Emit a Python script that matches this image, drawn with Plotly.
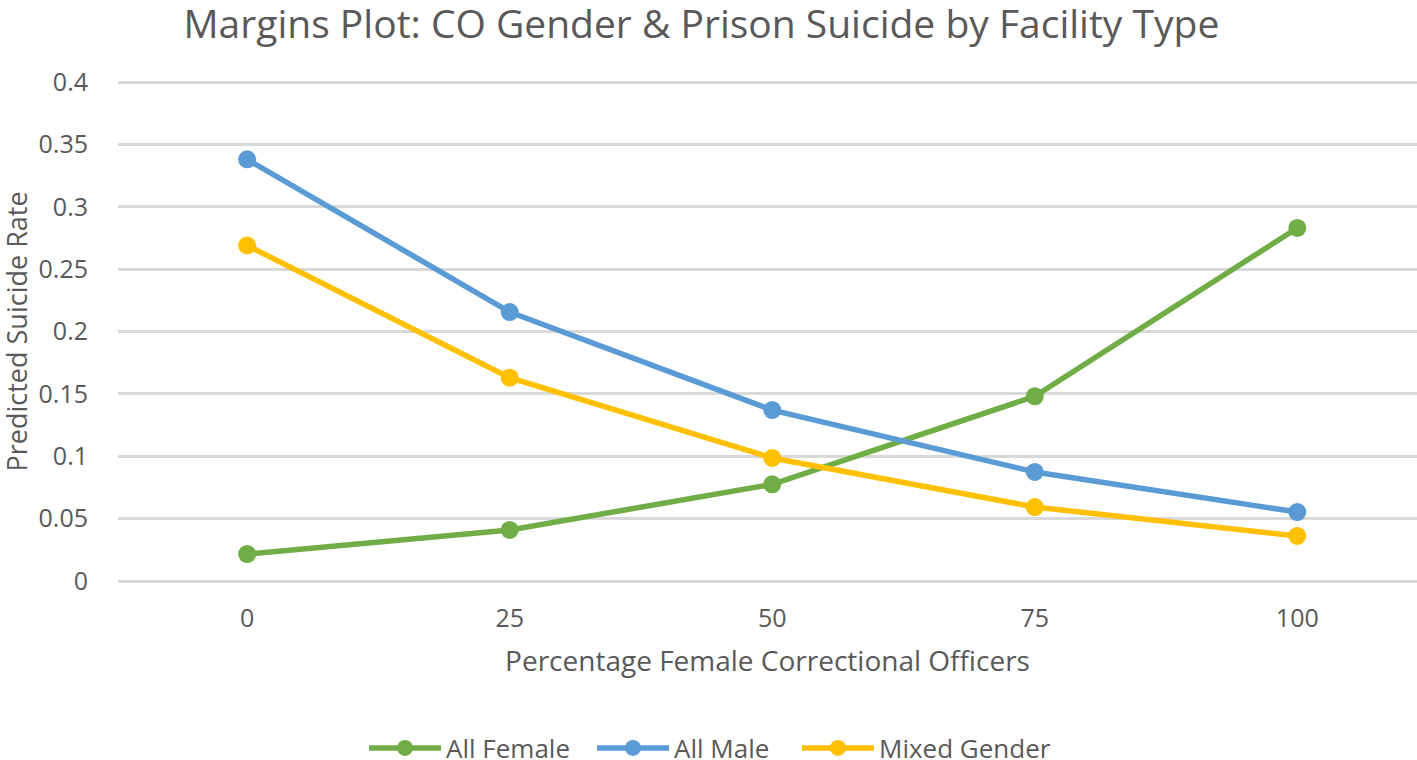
import plotly.graph_objects as go

x_vals = [0, 25, 50, 75, 100]
all_female = [0.0216, 0.0409, 0.0775, 0.148, 0.283]
all_male = [0.338, 0.2156, 0.137, 0.0874, 0.0553]
mixed_gender = [0.269, 0.163, 0.0986, 0.0593, 0.0361]
series_names = ["All Female", "All Male", "Mixed Gender"]
colors = ["#70AD47", "#5B9BD5", "#FFC000"]
y_ticks = [0, 0.05, 0.1, 0.15, 0.2, 0.25, 0.3, 0.35, 0.4]
y_ticktext = ["0", "0.05", "0.1", "0.15", "0.2", "0.25", "0.3", "0.35", "0.4"]

FONT = "Open Sans"
TXT = "#595959"

legend_ids = ["legend", "legend2", "legend3"]
legend_x = [364, 592, 797]  # left edge of each legend entry (px)

fig = go.Figure()
for name, ys, c, lg in zip(series_names, [all_female, all_male, mixed_gender], colors, legend_ids):
    fig.add_trace(go.Scatter(
        x=x_vals, y=ys, name=name, mode="lines+markers",
        line=dict(color=c, width=5.5),
        marker=dict(color=c, size=18),
        legend=lg,
    ))

leg_common = dict(orientation="h", xref="container", yref="paper",
                  xanchor="left", y=-0.328, yanchor="middle",
                  font=dict(size=26, color=TXT, family=FONT),
                  itemwidth=72, bgcolor="rgba(0,0,0,0)")

fig.update_layout(
    width=1417, height=760,
    paper_bgcolor="white", plot_bgcolor="white",
    margin=dict(l=118, r=0, t=80, b=177, autoexpand=False),
    font=dict(family=FONT, color=TXT),
    title=dict(text="Margins Plot: CO Gender & Prison Suicide by Facility Type",
               font=dict(size=39, color=TXT, family=FONT),
               x=0.495, xanchor="center", xref="container",
               y=0.968, yanchor="middle", yref="container"),
    showlegend=True,
    legend=dict(x=legend_x[0] / 1417, **leg_common),
    legend2=dict(x=legend_x[1] / 1417, **leg_common),
    legend3=dict(x=legend_x[2] / 1417, **leg_common),
)
fig.update_xaxes(
    range=[-12.3, 111.4], tickvals=x_vals, ticktext=[str(v) for v in x_vals],
    showgrid=False, zeroline=False, showline=False, ticks="", automargin=False,
    tickfont=dict(size=25, color=TXT, family=FONT), ticklabelstandoff=18,
    title=dict(text="Percentage Female Correctional Officers",
               font=dict(size=28, color=TXT, family=FONT), standoff=18),
)
fig.update_yaxes(
    range=[-0.0016, 0.4016], tickvals=y_ticks, ticktext=y_ticktext,
    showgrid=True, gridcolor="#D9D9D9", gridwidth=2.5,
    zeroline=False, showline=False, ticks="", automargin=False,
    tickfont=dict(size=25, color=TXT, family=FONT), ticklabelstandoff=29,
)
fig.add_annotation(
    text="Predicted Suicide Rate", textangle=-90,
    xref="paper", yref="paper", x=(16 - 118) / 1299, y=0.5,
    xanchor="center", yanchor="middle", showarrow=False,
    font=dict(size=27, color=TXT, family=FONT),
)

fig.write_html("out.html", config={"displayModeBar": False},
               post_script="document.body.style.margin='0px';")
